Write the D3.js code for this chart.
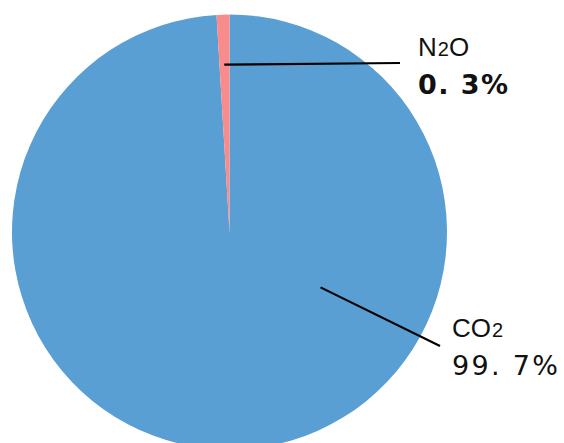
<!DOCTYPE html>
<html>
<head>
<meta charset="utf-8">
<script src="https://cdn.jsdelivr.net/npm/d3@7"></script>
<style>
  body { margin: 0; background: #fff; }
  svg { display: block; }
  text { font-family: "Liberation Sans", Arial, sans-serif; fill: #111; }
  .pct { font-family: "DejaVu Sans", sans-serif; }
</style>
</head>
<body>
<svg id="chart" width="564" height="443"></svg>
<script>
// gases, clockwise from 12 o'clock
const gases = ["CO2", "N2O"];
// slice shares as drawn in the picture (%)
const shares = [99.05, 0.95];
// labels as printed
const pctLabels = ["99. 7%", "0. 3%"];
const colors = ["#5a9fd4", "#fa8b8b"];

const svg = d3.select("#chart");
const cx = 229.5, cy = 232, r = 217.5;

const pie = d3.pie().sort(null).value(d => d.v);
const arcs = pie(gases.map((g, i) => ({ g, v: shares[i], i })));
const arc = d3.arc().innerRadius(0).outerRadius(r);

const g = svg.append("g").attr("transform", `translate(${cx},${cy})`);

g.selectAll("path")
    .data(arcs)
  .enter().append("path")
    .attr("d", arc)
    .attr("fill", d => colors[d.data.i]);

// label layout: leader start (angle deg, radius frac), leader end, text pos
const layout = {
  CO2: { a: 121.3, rf: 0.49, end: [440, 346], tx: 452, ty: [337, 375], w: 106, bold: false },
  N2O: { a: -1.8, rf: 0.77, end: [400, 63], tx: 418, ty: [56, 94], w: 90, bold: true }
};

arcs.forEach(d => {
  const L = layout[d.data.g];
  const ang = L.a * Math.PI / 180;
  const sx = cx + Math.sin(ang) * r * L.rf;
  const sy = cy - Math.cos(ang) * r * L.rf;
  svg.append("line")
      .attr("x1", sx).attr("y1", sy)
      .attr("x2", L.end[0]).attr("y2", L.end[1])
      .attr("stroke", "#000")
      .attr("stroke-width", 2.2);

  // gas name with the digit drawn smaller
  const name = svg.append("text")
      .attr("x", L.tx).attr("y", L.ty[0])
      .attr("font-size", 26);
  d.data.g.split("").forEach(ch => {
    const isDigit = /\d/.test(ch);
    name.append("tspan")
        .attr("font-size", isDigit ? 20 : 26)
        .attr("dx", isDigit ? 1 : 0)
        .text(ch);
  });

  svg.append("text")
      .attr("class", "pct")
      .attr("x", L.tx).attr("y", L.ty[1])
      .attr("font-size", 27)
      .attr("font-weight", L.bold ? "bold" : "normal")
      .attr("textLength", L.w)
      .attr("lengthAdjust", "spacing")
      .text(pctLabels[d.data.i]);
});
</script>
</body>
</html>
